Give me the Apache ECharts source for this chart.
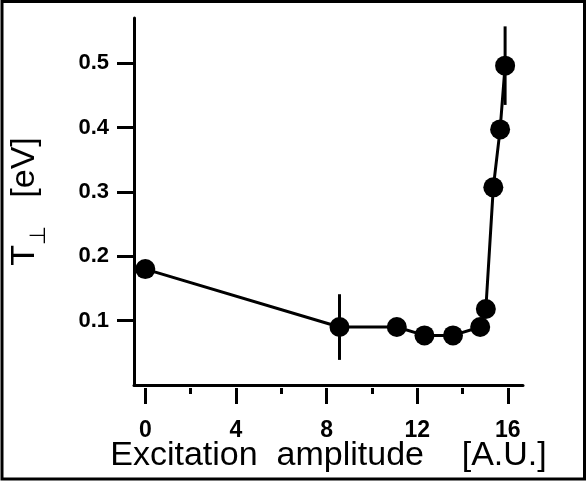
<!DOCTYPE html>
<html>
<head>
<meta charset="utf-8">
<script src="https://cdn.jsdelivr.net/npm/echarts@6/dist/echarts.min.js"></script>
<style>
  html, body { margin: 0; padding: 0; background: #fff; }
  #chart { width: 588px; height: 484px; }
</style>
</head>
<body>
<div id="chart"></div>
<script>
// excitation amplitude [A.U.] and T_perp [eV]
const amplitude = [0, 8.57, 11.1, 12.32, 13.58, 14.78, 15.03, 15.36, 15.66, 15.88]
const tPerp = [0.18, 0.09, 0.09, 0.077, 0.077, 0.09, 0.118, 0.307, 0.397, 0.496]

// error bars
const errX = [8.57, 15.88]
const errLow = [0.039, 0.435]
const errHigh = [0.141, 0.557]

const xMajor = [0, 4, 8, 12, 16]
const xMinor = [2, 6, 10, 14]
const yTicks = [0.1, 0.2, 0.3, 0.4, 0.5]

const font = '"Liberation Sans", Arial, Helvetica, sans-serif'

const chart = echarts.init(document.getElementById('chart'), null, { renderer: 'canvas' })

const xBase = {
  type: 'value', min: -0.5, max: 16.67, position: 'bottom',
  splitLine: { show: false }
}

const option = {
  animation: false,
  backgroundColor: '#fff',
  grid: { left: 132, right: 65, top: 18, bottom: 99 },
  graphic: [{
    type: 'rect',
    shape: { x: 2, y: 1.5, width: 582.5, height: 477.5 },
    style: { fill: 'none', stroke: '#000', lineWidth: 3 },
    z: 100
  }],
  xAxis: [
    {
      ...xBase,
      axisLine: { show: true, onZero: false, lineStyle: { color: '#000', width: 3 } },
      axisTick: { show: false },
      axisLabel: { show: false },
      name: 'Excitation  amplitude    [A.U.]',
      nameLocation: 'middle',
      nameGap: 54,
      nameTextStyle: { fontFamily: font, fontSize: 34, color: '#000' }
    },
    {
      ...xBase,
      offset: 3,
      axisLine: { show: false, onZero: false },
      axisTick: { show: true, customValues: xMajor, length: 16, lineStyle: { color: '#000', width: 3 } },
      axisLabel: {
        show: true, customValues: xMajor, margin: 31,
        fontFamily: font, fontSize: 23, fontWeight: 'bold', color: '#000'
      }
    },
    {
      ...xBase,
      offset: 3,
      axisLine: { show: false, onZero: false },
      axisTick: { show: true, customValues: xMinor, length: 6, lineStyle: { color: '#000', width: 3 } },
      axisLabel: { show: false }
    }
  ],
  yAxis: {
    type: 'value',
    min: 0,
    max: 0.57,
    splitLine: { show: false },
    axisLine: { show: true, onZero: false, lineStyle: { color: '#000', width: 3 } },
    axisTick: { show: true, customValues: yTicks, length: 17, lineStyle: { color: '#000', width: 3 } },
    axisLabel: {
      customValues: yTicks, margin: 25,
      formatter: v => v.toFixed(1),
      fontFamily: font, fontSize: 22, fontWeight: 'bold', color: '#000'
    },
    name: '{t|T}{s|⊥}{t|   [eV]}',
    nameLocation: 'middle',
    nameRotate: 90,
    nameGap: 84,
    nameTextStyle: {
      fontFamily: font, fontSize: 34, color: '#000',
      rich: {
        t: { fontFamily: font, fontSize: 34, color: '#000' },
        s: { fontFamily: font, fontSize: 22, color: '#000', padding: [28, 0, 0, 0] }
      }
    }
  },
  series: [
    {
      type: 'custom',
      xAxisIndex: 0,
      data: errX.map((x, i) => [x, errLow[i], errHigh[i]]),
      renderItem: (params, api) => {
        const lo = api.coord([api.value(0), api.value(1)])
        const hi = api.coord([api.value(0), api.value(2)])
        return {
          type: 'line',
          shape: { x1: lo[0], y1: lo[1], x2: hi[0], y2: hi[1] },
          style: { stroke: '#000', lineWidth: 3 }
        }
      },
      z: 1
    },
    {
      type: 'line',
      xAxisIndex: 0,
      data: amplitude.map((x, i) => [x, tPerp[i]]),
      symbol: 'circle',
      symbolSize: 20,
      itemStyle: { color: '#000' },
      lineStyle: { color: '#000', width: 3 },
      z: 2
    }
  ]
}

chart.setOption(option)
</script>
</body>
</html>
